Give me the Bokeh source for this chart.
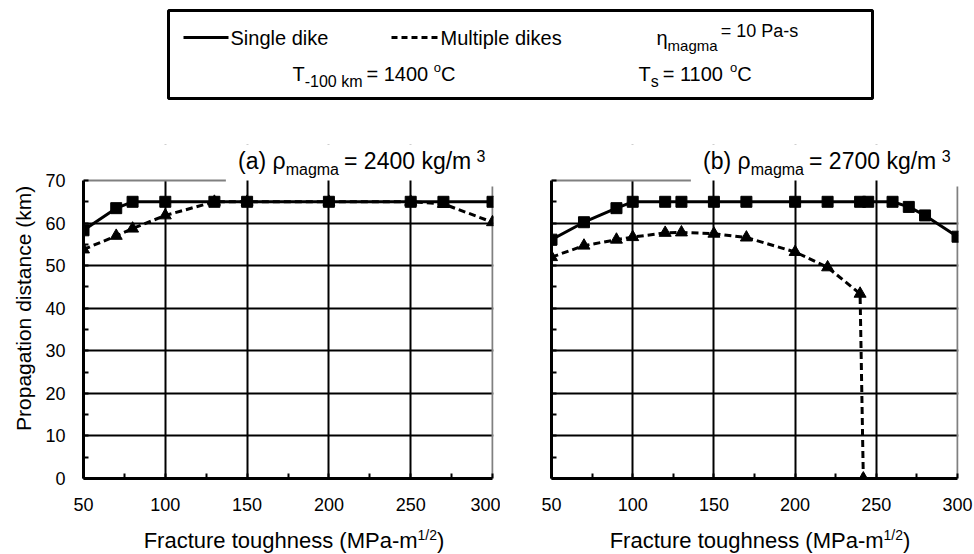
import math
from bokeh.plotting import figure
from bokeh.models import (Range1d, SingleIntervalTicker, FixedTicker, CustomJSTickFormatter,
                          BoxAnnotation)
from bokeh.layouts import column, row
from bokeh.core.properties import value
from bokeh.embed import file_html
from bokeh.resources import INLINE

# ---------------- data ----------------
x_a = [50, 70, 80, 100, 130, 150, 200, 250, 270, 300]
single_a = [58.3, 63.5, 65, 65, 65, 65, 65, 65, 65, 65]
multi_a = [53.8, 57.0, 58.7, 61.8, 65, 65, 65, 65, 64.5, 60.2]

x_b_single = [50, 70, 90, 100, 120, 130, 150, 170, 200, 220, 240, 245, 260, 270, 280, 300]
single_b = [56.1, 60.2, 63.5, 65, 65, 65, 65, 65, 65, 65, 65, 65, 65, 63.8, 61.8, 56.8]
x_b_multi = [50, 70, 90, 100, 120, 130, 150, 170, 200, 220, 240, 242]
multi_b = [52.0, 54.7, 56.1, 56.7, 57.7, 57.8, 57.5, 56.6, 53.2, 49.6, 43.4, 0.0]

x_grid = [100, 150, 200, 250]
y_grid = [10, 20, 30, 40, 50, 60]
x_min, x_max = 50, 300
y_min, y_max = 0, 70

FONT = "Liberation Sans"

# approximate Arial advance widths (em) for placing sub/superscript pieces
W = {' ': .278, '(': .333, ')': .333, '-': .333, '/': .278, '=': .584, '.': .278,
     'a': .556, 'b': .556, 'c': .5, 'd': .556, 'e': .556, 'g': .556, 'h': .556,
     'i': .222, 'k': .5, 'l': .222, 'm': .833, 'n': .556, 'o': .556, 'p': .556,
     'r': .333, 's': .5, 't': .278, 'u': .556, 'C': .722, 'F': .611, 'M': .833,
     'P': .667, 'S': .667, 'T': .611, 'ρ': .578, 'η': .556}


def tw(s, size):
    return sum(W.get(c, .556) for c in s) * size


TS_MAIN, TS_SUB, TS_SUP = 23, 16, 16

TOP_H = 144          # legend strip height
FRAME_H = 298        # pixels for 0..70
HEAD = 36            # extra frame space above 70 for the panel title
BOT = 43
ROW_H = HEAD + FRAME_H + BOT
X_PAD = 0.6


def panel(width, left, right, letter, rho, show_ylab):
    frame_w = width - left - right
    px_x = frame_w / (x_max + X_PAD - x_min)
    px_y = FRAME_H / (y_max - y_min)
    yr = Range1d(y_min, y_max + HEAD / px_y)
    p = figure(width=width, height=ROW_H, x_range=Range1d(x_min, x_max + X_PAD), y_range=yr,
               min_border_left=left, min_border_right=right, min_border_top=0,
               min_border_bottom=BOT, output_backend="svg", toolbar_location=None)
    p.outline_line_color = None
    p.background_fill_color = "white"
    p.border_fill_color = "white"
    p.xaxis.ticker = SingleIntervalTicker(interval=50, num_minor_ticks=2)
    p.yaxis.ticker = SingleIntervalTicker(interval=10, num_minor_ticks=2)
    p.xaxis.bounds = (x_min, x_max)
    p.yaxis.bounds = (y_min, y_max)
    p.xgrid.ticker = FixedTicker(ticks=x_grid)
    p.ygrid.ticker = FixedTicker(ticks=y_grid)
    for g in (p.xgrid, p.ygrid):
        g.grid_line_color = "black"
        g.grid_line_width = 2
    # white strip above the data area hides the grid there (title space)
    p.add_layout(BoxAnnotation(bottom=y_max, fill_color="white", fill_alpha=1.0,
                               line_color=None, level="underlay"))
    for ax in (p.xaxis, p.yaxis):
        ax.axis_line_color = "black"
        ax.axis_line_width = 3
        ax.major_tick_in = 0
        ax.major_tick_out = 0
        ax.minor_tick_in = 5
        ax.minor_tick_out = 0
        ax.minor_tick_line_width = 2
        ax.minor_tick_line_color = "black"
        ax.major_label_text_font = FONT
        ax.major_label_text_font_size = "18px"
        ax.major_label_text_color = "black"
    p.xaxis.major_label_standoff = 19
    p.yaxis.major_label_standoff = 18
    if not show_ylab:
        p.yaxis.formatter = CustomJSTickFormatter(code="return ''")

    # panel title, anchored to the top-right corner of the data area
    def put(t, s, right_px, base_px, align):
        mid = base_px - 0.35 * s                     # pixels below y=70
        p.text(x=[x_max + right_px / px_x], y=[y_max - mid / px_y], text=[t],
               text_font=value(FONT), text_font_size=f"{s}px", text_baseline="middle",
               text_align=align, text_color="black")

    base = -11
    t1, t2, t3, t4 = "(" + letter + ") ρ", "magma", " = " + rho + " kg/m", "3"
    r = -6 - tw(t4, TS_SUP)
    put(t4, TS_SUP, r - 1, base - 8, "left")
    put(t3, TS_MAIN, r, base, "right")
    r -= tw(t3, TS_MAIN) + 5
    put(t2, TS_SUB, r, base + 6, "right")
    r -= tw(t2, TS_SUB)
    put(t1, TS_MAIN, r, base, "right")
    r -= tw(t1, TS_MAIN)

    # grey plot-area border: top (interrupted by the title) and right
    p.segment(x0=[x_min], y0=[y_max], x1=[x_max + (r - 12) / px_x], y1=[y_max],
              line_color="#808080", line_width=2)
    p.segment(x0=[x_max], y0=[y_min], x1=[x_max], y1=[y_max - 6 / px_y],
              line_color="#808080", line_width=2)
    return p


YLAB_W = 40
p1 = panel(500 - YLAB_W, 83 - YLAB_W, 7, "a", "2400", True)
p1.line(x_a, single_a, line_color="black", line_width=3)
p1.scatter(x_a, single_a, marker="square", size=11, color="black")
p1.line(x_a, multi_a, line_color="black", line_width=3, line_dash="7 4")
p1.scatter(x_a, multi_a, marker="triangle", size=12, color="black")

p2 = panel(474, 51, 16, "b", "2700", False)
p2.line(x_b_single, single_b, line_color="black", line_width=3)
p2.scatter(x_b_single, single_b, marker="square", size=11, color="black")
p2.line(x_b_multi, multi_b, line_color="black", line_width=3, line_dash="7 4")
p2.scatter(x_b_multi, multi_b, marker="triangle", size=12, color="black")


def blank(width, height):
    f = figure(width=width, height=height, x_range=Range1d(0, width), y_range=Range1d(height, 0),
               min_border=0, output_backend="svg", toolbar_location=None)
    f.axis.visible = False
    f.grid.visible = False
    f.outline_line_color = None
    f.background_fill_color = "white"
    f.border_fill_color = "white"
    return f


def txt(f, x, base, t, s):
    # place by the visual middle (baseline - 0.35 em)
    f.text(x=[x], y=[base - 0.35 * s], text=[t], text_font=value(FONT), text_font_size=f"{s}px",
           text_baseline="middle", text_align="left", text_color="black")


# ---------------- y-axis title strip ----------------
ylab = blank(YLAB_W, ROW_H)
ylab.text(x=[23], y=[HEAD + FRAME_H / 2], text=["Propagation distance (km)"],
          text_font=value(FONT), text_font_size="21px", text_align="center",
          text_baseline="middle", angle=math.pi / 2, text_color="black")

# ---------------- top: parameter box ----------------
top = blank(974, TOP_H)
top.quad(left=[168], right=[872], top=[10], bottom=[98], fill_color=None,
         line_color="black", line_width=3)
top.line([183, 228], [37, 37], line_color="black", line_width=3)
top.line([391, 438], [37, 37], line_color="black", line_width=3, line_dash="6 4")
txt(top, 230, 44, "Single dike", 20)
txt(top, 440, 44, "Multiple dikes", 20)
ex = 656
txt(top, ex, 44, "η", 20)
ex += tw("η", 20)
txt(top, ex, 50, "magma", 15)
ex += tw("magma", 15) + 3
txt(top, ex, 37, "= 10 Pa-s", 18)

ex = 292
txt(top, ex, 80, "T", 20)
ex += tw("T", 20)
txt(top, ex, 87, "-100 km", 16)
ex += tw("-100 km", 16) + 4
txt(top, ex, 80, "= 1400 ", 20)
ex += tw("= 1400 ", 20)
txt(top, ex, 72, "o", 13)
ex += tw("o", 13)
txt(top, ex, 80, "C", 20)

ex = 638
txt(top, ex, 80, "T", 20)
ex += tw("T", 20)
txt(top, ex, 87, "s", 16)
ex += tw("s", 16) + 4
txt(top, ex, 80, "= 1100 ", 20)
ex += tw("= 1100 ", 20)
txt(top, ex, 72, "o", 13)
ex += tw("o", 13)
txt(top, ex, 80, "C", 20)

# ---------------- bottom: x-axis titles ----------------
bottom = blank(974, 554 - TOP_H - ROW_H)
for centre in ((83 + 492) / 2 + 6, (551 + 956) / 2 + 6):
    a1, a2, a3 = "Fracture toughness (MPa-m", "1/2", ")"
    w1, w2, w3 = tw(a1, 22), tw(a2, 14), tw(a3, 22)
    ex = centre - (w1 + w2 + w3) / 2
    txt(bottom, ex, 27, a1, 22)
    txt(bottom, ex + w1, 18, a2, 14)
    txt(bottom, ex + w1 + w2, 27, a3, 22)

layout = column(top, row(ylab, p1, p2), bottom)
open("out.html", "w").write(file_html(layout, INLINE))
